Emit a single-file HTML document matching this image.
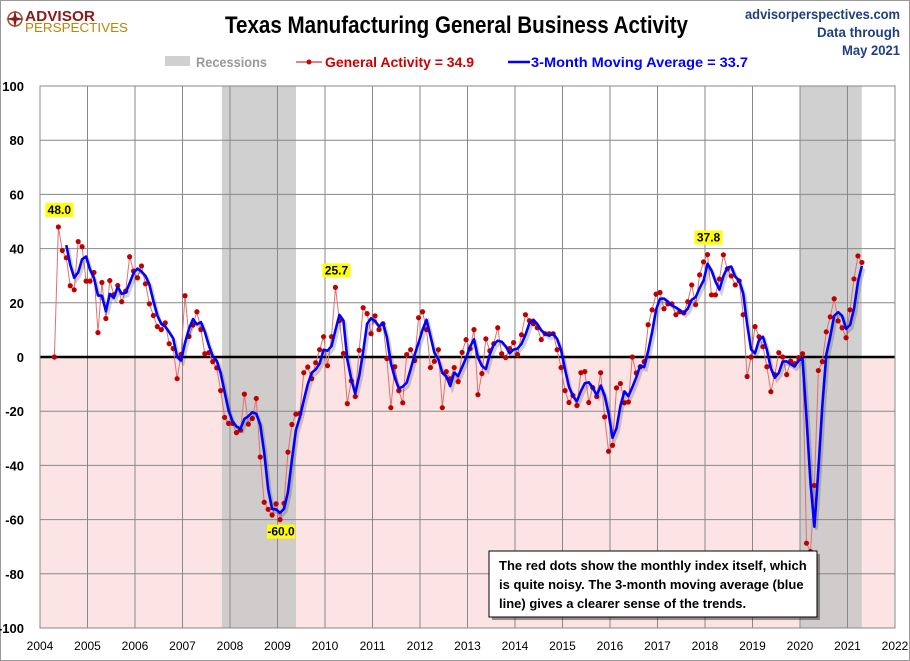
<!DOCTYPE html>
<html><head><meta charset="utf-8"><style>
html,body{margin:0;padding:0;background:#fff;}
svg{display:block;font-family:"Liberation Sans Narrow","Liberation Sans",sans-serif;}
</style></head><body>
<svg id="chart" width="910" height="661" xmlns="http://www.w3.org/2000/svg">
<rect x="0.5" y="0.5" width="909" height="660" fill="#fff" stroke="#999"/>
<g>
<circle cx="15" cy="19" r="7" fill="none" stroke="#a0522d" stroke-width="1.5"/>
<path d="M15 10 L17 19 L15 28 L13 19Z M6 19 L15 17 L24 19 L15 21Z" fill="#8b1a1a"/>
<text x="25" y="21" font-size="15" font-weight="bold" fill="#8b1a1a" textLength="70" lengthAdjust="spacingAndGlyphs">ADVISOR</text>
<text x="25" y="32" font-size="13" fill="#b8860b" textLength="103" lengthAdjust="spacingAndGlyphs">PERSPECTIVES</text>
</g>
<text x="225" y="33" font-size="24" font-weight="bold" fill="#000" textLength="463" lengthAdjust="spacingAndGlyphs">Texas Manufacturing General Business Activity</text>
<text x="900" y="19" text-anchor="end" font-size="14" font-weight="bold" fill="#1f3f7f" textLength="155" lengthAdjust="spacingAndGlyphs">advisorperspectives.com</text>
<text x="900" y="37" text-anchor="end" font-size="14" font-weight="bold" fill="#1f3f7f" textLength="83" lengthAdjust="spacingAndGlyphs">Data through</text>
<text x="900" y="55" text-anchor="end" font-size="14" font-weight="bold" fill="#1f3f7f" textLength="58" lengthAdjust="spacingAndGlyphs">May 2021</text>
<g>
<rect x="165" y="56" width="25" height="10" fill="#d0d0d0"/>
<text x="196" y="67" font-size="14" font-weight="bold" fill="#999" textLength="71" lengthAdjust="spacingAndGlyphs">Recessions</text>
<line x1="296" y1="62" x2="322" y2="62" stroke="#c00" stroke-width="1"/>
<circle cx="309" cy="62" r="2.5" fill="#c00"/>
<text x="325" y="67" font-size="14" font-weight="bold" fill="#c00" textLength="149" lengthAdjust="spacingAndGlyphs">General Activity = 34.9</text>
<line x1="508" y1="62" x2="530" y2="62" stroke="#00f" stroke-width="2.5"/>
<text x="531" y="67" font-size="14" font-weight="bold" fill="#00f" textLength="217" lengthAdjust="spacingAndGlyphs">3-Month Moving Average = 33.7</text>
</g>
<g id="plot"></g>
<g>
<rect x="492" y="554" width="328" height="66" fill="#333" opacity="0.5"/>
<rect x="489" y="551" width="328" height="66" fill="#fff" stroke="#000" stroke-width="1"/>
<text font-size="13" font-weight="bold" fill="#000" font-family="Liberation Sans, sans-serif">
<tspan x="499" y="570">The red dots show the monthly  index itself, which</tspan>
<tspan x="499" y="589">is quite noisy. The 3-month moving average (blue</tspan>
<tspan x="499" y="608">line) gives a clearer sense of the trends.</tspan></text>
</g>
</svg>
<script>
const startYear = 2004;
const startMonth = 4; // May 2004 (0-based month index)
const activity = [
0,48.0,39.3,36.6,26.3,24.8,42.6,40.7,
28,28,31.2,9,27.5,14.2,28.2,23,26.4,20.4,24.3,37,
31.7,29.2,33.6,27,19.6,15.3,11.2,10.1,12.6,4.9,3.1,-8,
1,22.6,7.6,11.8,16.7,10.1,1.2,1.6,-1.7,-4,-12.4,-22.3,
-24.5,-24.5,-27.9,-27,-13.7,-24.8,-22.7,-15.3,-36.9,-53.6,-56.2,-58.3,
-54.2,-60.0,-54,-35.1,-24.9,-21.1,-20.9,-5.8,-3.7,-8,-2.1,2.7,
7.5,-3.2,7.5,25.7,13.4,1.3,-17.2,-8.8,-14.6,2.5,18.2,16,
8.6,15.2,10.1,12.3,-0.6,-18.7,-3.6,-12.4,-16.9,0.9,2.7,-1.3,
14.5,16.7,10.1,-3.9,-1.6,2.7,-18.7,-5.4,-8,-3.9,-9.1,1.7,
6.4,3.1,10.1,-13.9,-6.1,6.7,2.3,4.9,10.8,1.2,-0.2,3.1,
5.3,0.9,8.2,15.6,13.4,12.3,10.8,6.4,8.6,8.6,8.6,2.7,
-3.9,-12.4,-16.8,-14.2,-17.9,-5.8,-5.4,-16.8,-11.3,-14.6,-5.8,-22.1,
-34.8,-32.6,-11.4,-9.8,-16.9,-16.6,0,-5.9,-3.6,-1.7,11.9,17.4,
23.2,23.8,17.8,19.6,19.6,15.6,16.7,16.3,20.4,26.6,19.3,30.3,
35.1,37.8,22.9,22.9,28.8,37.7,32.5,29.9,26.6,28.1,15.6,-7.2,
0,11.2,7.5,3.8,-3.6,-12.8,-6.5,1.6,0,-6.5,-1.5,-2.5,
-0.2,1.2,-68.7,-71.8,-47.4,-5,-1.7,9.3,14.8,21.5,13.3,10.8,
7.1,17.4,28.8,37.3,34.9];
const recessions = [[2007.83, 2009.39], [2020.0, 2021.3]];
const yTicks = [100,80,60,40,20,0,-20,-40,-60,-80,-100];
const xTicks = [2004,2005,2006,2007,2008,2009,2010,2011,2012,2013,2014,2015,2016,2017,2018,2019,2020,2021,2022];
const labels = [[48.0,'48.0'],[25.7,'25.7'],[-60.0,'-60.0'],[37.8,'37.8']];

const X0=40, X1=895, Y0=86, Y1=628;
const xs = t => X0 + (t-2004)/(2022-2004)*(X1-X0);
const ys = v => Y0 + (100-v)/200*(Y1-Y0);
const mx = i => xs(startYear + (startMonth+i)/12 - 0.03);
const NS='http://www.w3.org/2000/svg';
const plot=document.getElementById('plot');
function mk(tag, attrs, parent){const e=document.createElementNS(NS,tag);for(const k in attrs)e.setAttribute(k,attrs[k]);(parent||plot).appendChild(e);return e;}

const bg=mk('rect',{x:X0,y:ys(0),width:X1-X0,height:Y1-ys(0),fill:'#fde4e4'});


recessions.forEach(r=>{
  const e=mk('rect',{x:xs(r[0]),y:Y0,width:xs(r[1])-xs(r[0]),height:Y1-Y0,fill:'#c8c8c8',opacity:'0.85'});
  
  
});
xTicks.forEach(t=>{
  const l=mk('line',{x1:xs(t),x2:xs(t),y1:Y0,y2:Y1,stroke:'#888','stroke-width':1});
  
  
  const tx=mk('text',{x:xs(t),y:650,'text-anchor':'middle','font-size':12,fill:'#000','font-family':'Liberation Sans, sans-serif'});
  tx.textContent=t;
  
  
});
yTicks.forEach(v=>{
  const l=mk('line',{x1:X0,x2:X1,y1:ys(v),y2:ys(v),stroke:v===0?'#000':'#888','stroke-width':v===0?2.5:1});
  
  
  const tx=mk('text',{x:24,y:ys(v)+5,'text-anchor':'end','font-size':13,'font-weight':'bold',fill:'#000','font-family':'Liberation Sans, sans-serif'});
  tx.textContent=v;
  
  
});
const frame=mk('rect',{x:X0,y:Y0,width:X1-X0,height:Y1-Y0,fill:'none',stroke:'#888'});



const redPts=activity.map((v,i)=>mx(i).toFixed(1)+','+ys(v).toFixed(1)).join(' ');
const rl=mk('polyline',{points:redPts,fill:'none',stroke:'#e07070','stroke-width':1});


activity.forEach((v,i)=>{
  const c=mk('circle',{cx:mx(i),cy:ys(v),r:2.6,fill:'#c00000'});
  
  
});
const ma=[];
for(let i=3;i<activity.length;i++){ma.push([mx(i),(activity[i]+activity[i-1]+activity[i-2])/3]);}
const maPts=ma.map(p=>p[0].toFixed(1)+','+ys(p[1]).toFixed(1)).join(' ');
const sh=mk('polyline',{points:maPts,fill:'none',stroke:'#000','stroke-opacity':'0.18','stroke-width':3,transform:'translate(2,3)'});


const bl=mk('polyline',{points:maPts,fill:'none',stroke:'#0000ff','stroke-width':2.6,'stroke-linejoin':'round'});



labels.forEach(l=>{
  const i=activity.indexOf(l[0]);
  const x=mx(i), y=ys(l[0]);
  const above=l[0]>0;
  const ty=above? y-13 : y+16;
  const r=mk('rect',{x:x-13,y:ty-11,width:28,height:14,fill:'#ffff00'});
  
  
  const t=mk('text',{x:x+1,y:ty,'text-anchor':'middle','font-size':12,'font-weight':'bold',fill:'#000','font-family':'Liberation Sans, sans-serif'});
  t.textContent=l[1];
  
  
});
</script>
</body></html>
